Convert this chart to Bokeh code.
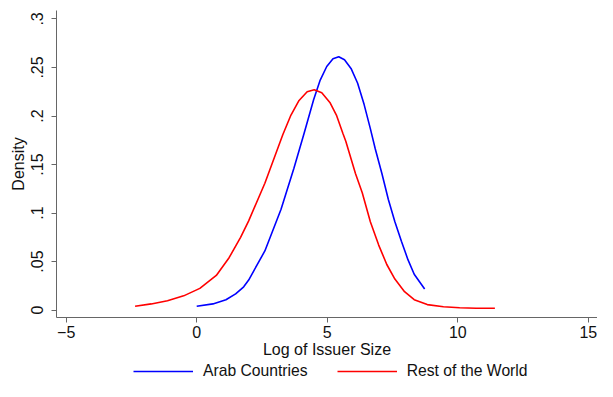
from bokeh.plotting import figure
from bokeh.layouts import column
from bokeh.models import Range1d, FixedTicker, Legend, LegendItem
from bokeh.embed import file_html
from bokeh.resources import INLINE

# Data
arab_x = [0.00, 0.62, 1.12, 1.49, 1.80, 1.99, 2.61, 3.23, 3.72, 4.10, 4.48, 4.73, 4.98, 5.22,
          5.44, 5.66, 5.91, 6.16, 6.41, 6.65, 6.84, 7.09, 7.34, 7.59, 7.84, 8.09, 8.33, 8.73]
arab_y = [0.004, 0.0064, 0.0107, 0.0167, 0.024, 0.031, 0.061, 0.104, 0.146, 0.181, 0.217, 0.237,
          0.251, 0.259, 0.261, 0.258, 0.249, 0.234, 0.212, 0.187, 0.166, 0.141, 0.114, 0.091,
          0.071, 0.052, 0.037, 0.0217]

row_x = [-2.36, -1.74, -1.12, -0.50, 0.12, 0.75, 1.24, 1.68, 1.99, 2.61, 3.30, 3.61, 3.92,
         4.23, 4.50, 4.79, 5.10, 5.35, 5.60, 5.71, 6.08, 6.34, 6.65, 6.97, 7.28, 7.59, 7.96,
         8.33, 8.83, 9.45, 10.07, 10.70, 11.42]
row_y = [0.004, 0.0064, 0.0097, 0.0147, 0.0224, 0.0357, 0.054, 0.075, 0.092, 0.1307, 0.181,
         0.201, 0.216, 0.225, 0.227, 0.224, 0.214, 0.201, 0.182, 0.174, 0.1407, 0.121, 0.091,
         0.067, 0.047, 0.032, 0.019, 0.0107, 0.0057, 0.0034, 0.0024, 0.002, 0.002]

x_ticks = [-5, 0, 5, 10, 15]
y_ticks = [0, 0.05, 0.1, 0.15, 0.2, 0.25, 0.3]
y_tick_labels = ["0", ".05", ".1", ".15", ".2", ".25", ".3"]

series_names = ["Arab Countries", "Rest of the World"]
series_colors = ["#0000ff", "#ff0000"]
x_title = "Log of Issuer Size"
y_title = "Density"

FONT = "Liberation Sans"
AXIS_COLOR = "#666666"
TEXT_COLOR = "#111111"

p = figure(width=597, height=360, output_backend="svg", toolbar_location=None,
           x_range=Range1d(-5.37, 15.35), y_range=Range1d(-0.0076, 0.3087),
           min_border_left=56, min_border_right=0, min_border_top=10, min_border_bottom=0)
p.outline_line_color = None
p.xgrid.visible = False
p.ygrid.visible = False
p.background_fill_color = "white"
p.border_fill_color = "white"

p.line(arab_x, arab_y, line_color=series_colors[0], line_width=1.6)
p.line(row_x, row_y, line_color=series_colors[1], line_width=1.6)

for ax in (p.xaxis[0], p.yaxis[0]):
    ax.axis_line_color = AXIS_COLOR
    ax.major_tick_line_color = AXIS_COLOR
    ax.minor_tick_line_color = None
    ax.major_tick_in = 0
    ax.major_tick_out = 5
    ax.major_label_text_font = FONT
    ax.major_label_text_font_size = "16px"
    ax.major_label_text_color = TEXT_COLOR
    ax.axis_label_text_font = FONT
    ax.axis_label_text_font_size = "16px"
    ax.axis_label_text_font_style = "normal"
    ax.axis_label_text_color = TEXT_COLOR

p.xaxis[0].ticker = FixedTicker(ticks=x_ticks)
p.xaxis[0].axis_label = x_title
p.xaxis[0].major_label_standoff = 3
p.xaxis[0].axis_label_standoff = 0

p.yaxis[0].ticker = FixedTicker(ticks=y_ticks)
p.yaxis[0].major_label_overrides = {t: l for t, l in zip(y_ticks, y_tick_labels)}
p.yaxis[0].major_label_orientation = "vertical"
p.yaxis[0].axis_label = y_title
p.yaxis[0].major_label_standoff = 8
p.yaxis[0].axis_label_standoff = 2

# Legend strip below the chart (its series are kept out of view; only the keys show)
p2 = figure(width=597, height=21, output_backend="svg", toolbar_location=None,
            x_axis_location=None, y_axis_location=None,
            x_range=Range1d(-5.37, 15.35), y_range=Range1d(10, 11),
            min_border_left=0, min_border_right=0, min_border_top=0, min_border_bottom=0)
p2.outline_line_color = None
p2.grid.visible = False
p2.background_fill_color = "white"
p2.border_fill_color = "white"
k1 = p2.line(arab_x, arab_y, line_color=series_colors[0], line_width=1.6)
k2 = p2.line(row_x, row_y, line_color=series_colors[1], line_width=1.6)

legend = Legend(items=[LegendItem(label=series_names[0], renderers=[k1]),
                       LegendItem(label=series_names[1], renderers=[k2])],
                orientation="horizontal", location=(77, 1),
                border_line_color=None, background_fill_alpha=0,
                glyph_width=60, glyph_height=16, label_height=16,
                label_standoff=10, spacing=29, padding=0, margin=0,
                label_text_font=FONT, label_text_font_size="15.7px",
                label_text_color=TEXT_COLOR)
p2.add_layout(legend, "center")

layout = column(p, p2, spacing=0)
open("out.html", "w").write(file_html(layout, INLINE))
